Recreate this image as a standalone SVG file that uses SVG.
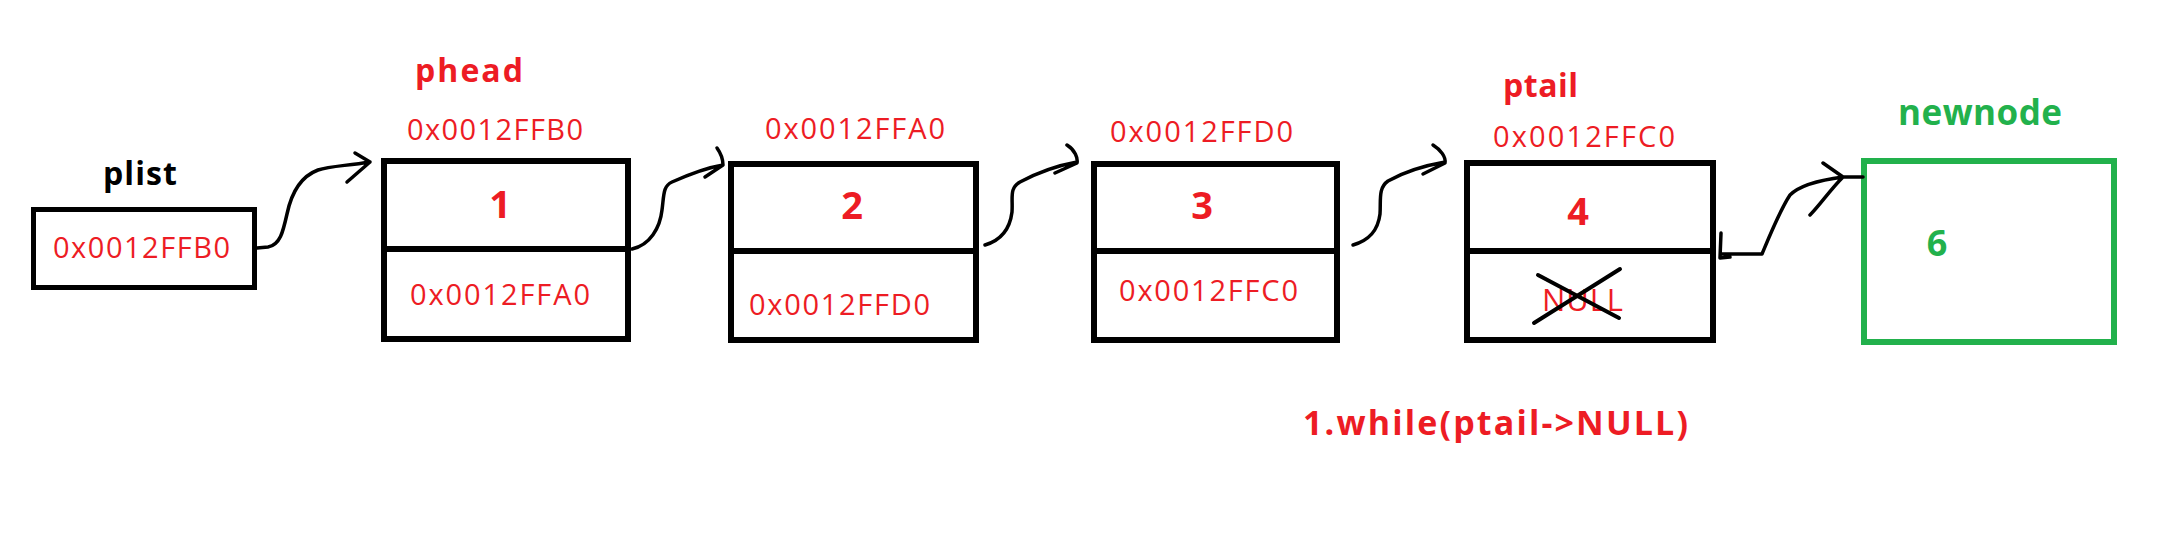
<svg xmlns="http://www.w3.org/2000/svg" width="2178" height="552" viewBox="0 0 2178 552">
<style>
.box{fill:none;stroke:#000;stroke-width:6}
.gbox{fill:none;stroke:#22b14c;stroke-width:6}
.div{stroke:#000;stroke-width:6}
.con{fill:none;stroke:#000;stroke-width:3.5;stroke-linecap:round;stroke-linejoin:round}
.addr{font-family:"Open Sans","Noto Sans",sans-serif;font-size:29px;fill:#ed1c24;text-anchor:middle}
.lbl{font-family:"Open Sans","Noto Sans",sans-serif;font-size:32px;font-weight:bold;text-anchor:middle}
.num{font-family:"Open Sans","Noto Sans",sans-serif;font-size:38px;font-weight:bold;fill:#ed1c24;text-anchor:middle}
</style>
<rect width="2178" height="552" fill="#fff"/>
<g id="plist">
<text class="lbl" x="140" y="185" fill="#000" textLength="74">plist</text>
<rect class="box" x="33.5" y="209.5" width="221" height="78" style="stroke-width:5"/>
<text class="addr" x="141.5" y="258" textLength="177">0x0012FFB0</text>
</g>
<g id="node1">
<text class="lbl" x="469" y="82" fill="#ed1c24" textLength="108">phead</text>
<text class="addr" x="495" y="140" textLength="176">0x0012FFB0</text>
<rect class="box" x="384" y="161" width="244" height="178"/>
<line class="div" x1="384" y1="249" x2="628" y2="249"/>
<text class="num" x="500" y="218">1</text>
<text class="addr" x="500" y="305" textLength="180">0x0012FFA0</text>
</g>
<g id="node2">
<text class="addr" x="855" y="139" textLength="180">0x0012FFA0</text>
<rect class="box" x="731" y="164" width="245" height="176"/>
<line class="div" x1="731" y1="251" x2="976" y2="251"/>
<text class="num" x="852" y="219">2</text>
<text class="addr" x="839.5" y="315" textLength="181">0x0012FFD0</text>
</g>
<g id="node3">
<text class="addr" x="1201.5" y="142" textLength="183">0x0012FFD0</text>
<rect class="box" x="1094" y="164" width="243" height="176"/>
<line class="div" x1="1094" y1="251" x2="1337" y2="251"/>
<text class="num" x="1202" y="219">3</text>
<text class="addr" x="1208.5" y="301" textLength="179">0x0012FFC0</text>
</g>
<g id="node4">
<text class="lbl" x="1540.5" y="97" fill="#ed1c24" textLength="75">ptail</text>
<text class="addr" x="1584" y="147" textLength="182">0x0012FFC0</text>
<rect class="box" x="1467" y="163" width="246" height="177"/>
<line class="div" x1="1467" y1="251" x2="1713" y2="251"/>
<text class="num" x="1578" y="225">4</text>
<text class="addr" x="1582.5" y="311" style="font-size:31px" textLength="81">NULL</text>
<path class="con" d="M1538,275 L1619,318 M1620,269 L1534,323" style="stroke-width:4"/>
</g>
<g id="newnode">
<text class="lbl" x="1980" y="125" fill="#22b14c" style="font-size:35px" textLength="164">newnode</text>
<rect class="gbox" x="1864" y="161" width="250" height="181"/>
<text class="num" x="1937" y="256" style="fill:#22b14c;font-size:36px">6</text>
</g>
<g id="note">
<text class="lbl" x="1495.5" y="435" fill="#ed1c24" style="font-size:34px" textLength="385">1.while(ptail-&gt;NULL)</text>
</g>
<g id="connectors">
<path class="con" d="M257,248 L268,247 C280,245 283,232 287,214 C292,190 302,176 318,170 C330,166 345,166 370,162 M355,153 L370,162 L347,182"/>
<path class="con" d="M632,249 C650,245 660,228 662,210 C664,195 663,186 672,182 C690,174 705,168 723,165 M717,148 C722,155 723,160 723,165 L705,177"/>
<path class="con" d="M985,245 C1002,240 1010,228 1012,212 C1013,198 1009,188 1020,182 C1035,174 1055,166 1077,162 M1067,145 C1075,150 1078,158 1077,163 L1055,173"/>
<path class="con" d="M1353,245 C1370,240 1378,230 1380,214 C1381,200 1378,188 1388,181 C1404,172 1422,166 1445,162 M1433,145 C1441,150 1446,157 1445,163 L1423,174"/>
<path class="con" d="M1863,177 L1843,177 C1820,180 1800,185 1790,195 C1780,210 1770,235 1762,254 L1722,254 M1721,233 L1720,258 L1730,257 M1823,163 L1843,177 M1810,215 C1820,205 1830,190 1843,177"/>
</g>
</svg>
